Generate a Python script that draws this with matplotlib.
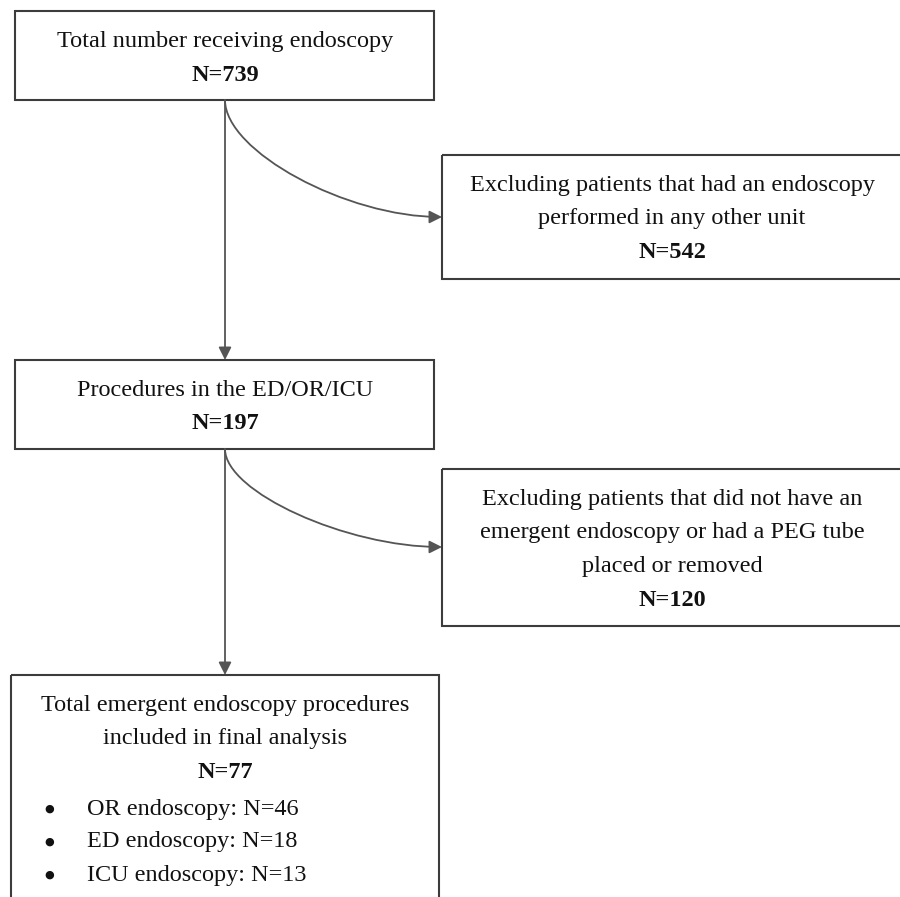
import matplotlib
matplotlib.use("Agg")
import matplotlib.pyplot as plt
from matplotlib.patches import Rectangle, FancyArrowPatch
from matplotlib.path import Path

# ---- data ----
box_titles = [
    ["Total number receiving endoscopy"],
    ["Excluding patients that had an endoscopy", "performed in any other unit"],
    ["Procedures in the ED/OR/ICU"],
    ["Excluding patients that did not have an", "emergent endoscopy or had a PEG tube", "placed or removed"],
    ["Total emergent endoscopy procedures", "included in final analysis"],
]
box_counts = ["N=739", "N=542", "N=197", "N=120", "N=77"]
bullet_labels = ["OR endoscopy: N=46", "ED endoscopy: N=18", "ICU endoscopy: N=13"]

W, H = 900, 897
fig = plt.figure(figsize=(W / 100, H / 100), dpi=100)
ax = fig.add_axes([0, 0, 1, 1])
ax.set_xlim(0, W)
ax.set_ylim(H, 0)
ax.axis("off")

FONT = "Liberation Serif"
FS = 17.5
EDGE = "#3c3c3c"
ARROW = "#555555"
LINE_H = 33.8

# box geometry: (x0, y0, x1, y1), text center x, first line y
boxes = [
    (15, 11, 434, 100, 225, 42),
    (442, 155, 905, 279, 672, 185),
    (15, 360, 434, 449, 225, 390),
    (442, 469, 905, 626, 672, 499),
    (11, 675, 439, 905, 225, 705),
]

for (x0, y0, x1, y1, cx, ty), lines, cnt in zip(boxes, box_titles, box_counts):
    ax.add_patch(Rectangle((x0, y0), x1 - x0, y1 - y0, fill=False,
                           edgecolor=EDGE, linewidth=1.5))
    y = ty
    for ln in lines:
        ax.text(cx, y, ln, ha="center", va="center", fontsize=FS,
                family=FONT, color="#111111")
        y += LINE_H
    ax.text(cx, y, cnt, ha="center", va="center", fontsize=FS,
            family=FONT, fontweight="bold", color="#111111")

# bullets in bottom box
by = 809
for lab in bullet_labels:
    ax.text(49, by, "\u25cf", ha="center", va="center", fontsize=8,
            family="DejaVu Sans", color="#111111")
    ax.text(87, by, lab, ha="left", va="center", fontsize=FS,
            family=FONT, color="#111111")
    by += 33

# straight arrows
def straight(x, y0, y1):
    a = FancyArrowPatch((x, y0), (x, y1), arrowstyle="-|>", mutation_scale=19,
                        color=ARROW, linewidth=1.3, shrinkA=0, shrinkB=0)
    ax.add_patch(a)

straight(225, 100, 360)
straight(225, 449, 675)

# curved arrows
def curved(x0, y0, x1, y1, k=0.44):
    dy = y1 - y0
    dx = x1 - x0
    verts = [(x0, y0), (x0, y0 + dy * k), (x0 + dx * (1 - k), y1),
             (x1, y1)]
    codes = [Path.MOVETO, Path.CURVE4, Path.CURVE4, Path.CURVE4]
    a = FancyArrowPatch(path=Path(verts, codes), arrowstyle="-|>",
                        mutation_scale=19, color=ARROW, linewidth=1.3,
                        shrinkA=0, shrinkB=0)
    ax.add_patch(a)

curved(225, 100, 442, 217)
curved(225, 449, 442, 547)

fig.savefig("out.png", dpi=100, facecolor="white")
